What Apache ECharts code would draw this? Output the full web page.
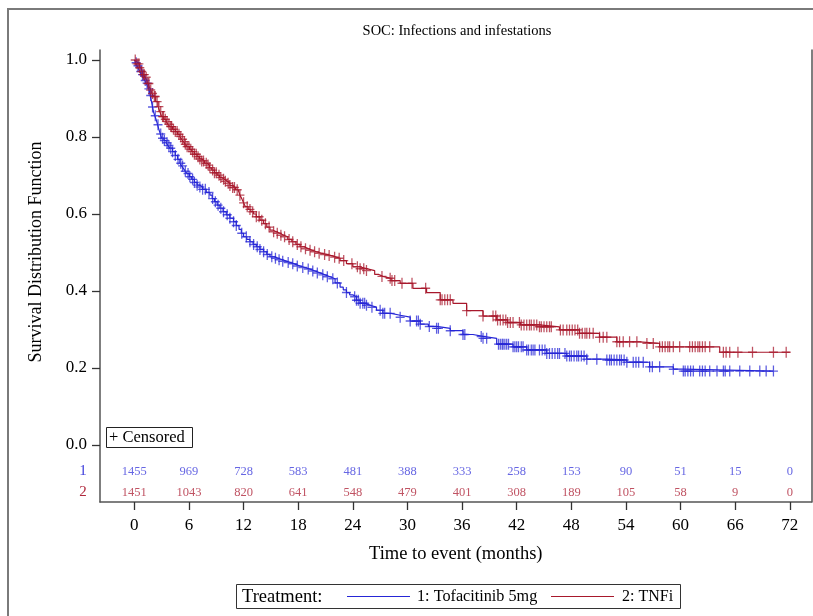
<!DOCTYPE html>
<html>
<head>
<meta charset="utf-8">
<script src="https://cdn.jsdelivr.net/npm/echarts@6/dist/echarts.min.js"></script>
<style>
html,body{margin:0;padding:0;background:#fff;}
#chart{width:813px;height:616px;}
</style>
</head>
<body>
<div id="chart"></div>
<script>
// ---------- data ----------
var chartTitle = 'SOC: Infections and infestations';
var groupNames = ['1: Tofacitinib 5mg', '2: TNFi'];
var xTicks = [0, 6, 12, 18, 24, 30, 36, 42, 48, 54, 60, 66, 72];
var yTicks = [0, 0.2, 0.4, 0.6, 0.8, 1.0];

// Kaplan-Meier step points (time in months, survival)
var tofaTimes = [0, 0.15, 0.3, 0.45, 0.6, 0.8, 1.0, 1.15, 1.3, 1.45, 1.6, 1.75, 1.9, 2.0, 2.1, 2.25, 2.4, 2.55, 2.7, 2.85, 3.0, 3.25, 3.5, 3.7, 3.9, 4.2, 4.5, 4.75, 5.0, 5.2, 5.4, 5.6, 5.8, 6.05, 6.3, 6.6, 6.9, 7.2, 7.5, 7.9, 8.3, 8.55, 8.8, 9.1, 9.4, 9.75, 10.1, 10.5, 10.9, 11.2, 11.5, 11.75, 12.0, 12.35, 12.7, 13.05, 13.4, 13.8, 14.2, 14.55, 14.9, 15.35, 15.8, 16.3, 16.8, 17.15, 17.5, 17.85, 18.2, 18.75, 19.3, 19.85, 20.4, 20.95, 21.5, 22.05, 22.6, 22.95, 23.3, 23.65, 24.0, 24.4, 24.8, 25.35, 25.9, 26.6, 27.3, 28.2, 29.2, 30.3, 31.4, 32.3, 33.2, 34.7, 36.1, 37.2, 38.3, 39.8, 41.6, 43.1, 45.3, 47.5, 49.7, 51.9, 54.1, 56.6, 59.2, 60.3, 70.2];
var tofaSurv  = [1.0, 0.993, 0.985, 0.978, 0.97, 0.962, 0.955, 0.947, 0.94, 0.932, 0.925, 0.908, 0.89, 0.878, 0.866, 0.855, 0.845, 0.832, 0.82, 0.808, 0.797, 0.791, 0.785, 0.778, 0.771, 0.762, 0.752, 0.742, 0.732, 0.725, 0.718, 0.711, 0.705, 0.697, 0.69, 0.682, 0.675, 0.67, 0.664, 0.656, 0.649, 0.64, 0.632, 0.623, 0.615, 0.606, 0.598, 0.589, 0.58, 0.57, 0.56, 0.55, 0.541, 0.534, 0.528, 0.521, 0.515, 0.508, 0.502, 0.495, 0.489, 0.485, 0.481, 0.477, 0.474, 0.471, 0.468, 0.465, 0.461, 0.457, 0.452, 0.447, 0.442, 0.437, 0.432, 0.421, 0.41, 0.403, 0.396, 0.39, 0.385, 0.376, 0.368, 0.363, 0.358, 0.35, 0.342, 0.337, 0.332, 0.322, 0.314, 0.308, 0.303, 0.297, 0.287, 0.282, 0.277, 0.262, 0.255, 0.247, 0.238, 0.231, 0.223, 0.221, 0.215, 0.203, 0.197, 0.192, 0.192];

var tnfTimes = [0, 0.15, 0.3, 0.55, 0.8, 1.0, 1.2, 1.35, 1.5, 1.65, 1.8, 1.95, 2.1, 2.35, 2.6, 2.8, 3.0, 3.25, 3.5, 3.7, 3.9, 4.2, 4.5, 4.75, 5.0, 5.2, 5.4, 5.6, 5.8, 6.05, 6.3, 6.6, 6.9, 7.15, 7.4, 7.7, 8.0, 8.25, 8.5, 8.8, 9.1, 9.35, 9.6, 9.9, 10.2, 10.5, 10.8, 11.1, 11.4, 11.6, 11.8, 12.0, 12.2, 12.5, 12.8, 13.1, 13.4, 13.8, 14.2, 14.55, 14.9, 15.25, 15.6, 16.0, 16.4, 16.85, 17.3, 17.75, 18.2, 18.65, 19.1, 19.55, 20.0, 20.55, 21.1, 21.65, 22.2, 22.6, 23.3, 24.0, 24.75, 25.5, 26.4, 26.85, 27.3, 28.2, 29.2, 30.6, 32.1, 33.6, 35.0, 36.5, 38.3, 39.8, 41.0, 42.4, 44.5, 46.7, 48.9, 51.1, 53.0, 55.5, 57.7, 64.3, 72.0];
var tnfSurv  = [1.0, 0.995, 0.99, 0.98, 0.97, 0.962, 0.955, 0.947, 0.939, 0.93, 0.922, 0.913, 0.905, 0.892, 0.879, 0.866, 0.853, 0.846, 0.84, 0.833, 0.827, 0.82, 0.814, 0.807, 0.801, 0.794, 0.788, 0.781, 0.775, 0.768, 0.762, 0.755, 0.749, 0.743, 0.738, 0.732, 0.727, 0.72, 0.714, 0.707, 0.701, 0.695, 0.69, 0.685, 0.68, 0.674, 0.669, 0.663, 0.658, 0.649, 0.64, 0.629, 0.619, 0.612, 0.606, 0.6, 0.593, 0.584, 0.575, 0.566, 0.558, 0.554, 0.55, 0.545, 0.541, 0.534, 0.528, 0.521, 0.515, 0.51, 0.506, 0.502, 0.498, 0.495, 0.492, 0.488, 0.485, 0.479, 0.471, 0.463, 0.458, 0.453, 0.443, 0.438, 0.433, 0.427, 0.42, 0.407, 0.396, 0.377, 0.368, 0.349, 0.335, 0.325, 0.318, 0.312, 0.307, 0.299, 0.29, 0.28, 0.268, 0.264, 0.255, 0.241, 0.241];

// censoring times (months)
var tofaCensor = [0.2, 0.4, 0.7, 0.9, 1.2, 1.4, 1.6, 1.8, 2.0, 2.3, 2.6, 2.9, 3.1, 3.3, 3.6, 3.8, 4.0, 4.2, 4.5, 4.8, 5.1, 5.3, 5.6, 5.9, 6.1, 6.4, 6.6, 6.9, 7.2, 7.5, 7.8, 8.2, 8.6, 8.9, 9.2, 9.5, 9.8, 10.2, 10.5, 10.9, 11.2, 11.8, 12.3, 12.7, 13.1, 13.5, 13.8, 14.2, 14.6, 15.1, 15.5, 15.9, 16.3, 16.9, 17.4, 17.9, 18.5, 19.1, 19.6, 20.1, 20.7, 21.2, 21.8, 22.3, 23.3, 24.2, 24.4, 24.6, 24.8, 25.1, 25.3, 25.5, 26.1, 27.0, 27.3, 27.5, 28.1, 29.2, 30.3, 31.0, 31.2, 31.4, 32.4, 33.2, 33.4, 34.7, 36.1, 36.3, 38.1, 38.3, 38.7, 40.0, 40.2, 40.4, 40.5, 40.7, 40.9, 41.1, 41.6, 41.8, 42.0, 42.2, 42.5, 42.7, 43.1, 43.3, 43.6, 43.8, 44.0, 44.5, 44.8, 45.1, 45.3, 45.6, 45.9, 46.2, 46.5, 46.7, 47.3, 47.5, 47.8, 48.0, 48.3, 48.6, 48.8, 49.1, 49.4, 49.7, 50.8, 51.9, 52.2, 52.4, 52.7, 53.0, 53.3, 53.5, 53.8, 54.1, 54.8, 55.1, 55.4, 55.9, 56.6, 56.9, 57.7, 59.2, 60.3, 60.5, 60.8, 61.1, 61.4, 62.1, 62.4, 62.7, 63.2, 64.0, 64.7, 64.9, 65.4, 66.5, 67.6, 68.7, 69.4, 70.2];
var tnfCensor = [0.1, 0.3, 0.5, 0.6, 0.8, 1.0, 1.1, 1.3, 1.5, 1.6, 1.8, 2.0, 2.2, 2.3, 2.5, 2.7, 2.9, 3.1, 3.2, 3.4, 3.6, 3.8, 4.0, 4.1, 4.3, 4.5, 4.7, 4.9, 5.1, 5.3, 5.5, 5.6, 5.8, 6.0, 6.2, 6.4, 6.6, 6.8, 7.0, 7.2, 7.4, 7.6, 7.9, 8.1, 8.3, 8.6, 8.8, 9.0, 9.3, 9.5, 9.8, 10.0, 10.3, 10.5, 10.8, 11.0, 11.3, 11.6, 12.0, 12.4, 12.7, 13.0, 13.4, 13.7, 14.0, 14.4, 14.8, 15.3, 15.7, 16.1, 16.5, 17.0, 17.4, 17.9, 18.3, 18.8, 19.3, 19.8, 20.3, 20.9, 21.4, 22.0, 22.5, 23.0, 23.9, 24.5, 24.8, 25.2, 25.5, 27.2, 28.1, 28.3, 28.6, 29.4, 30.5, 32.0, 33.6, 33.8, 34.1, 34.4, 34.7, 36.5, 38.3, 39.4, 39.7, 39.9, 40.2, 40.5, 40.8, 41.0, 41.3, 41.6, 42.3, 42.5, 42.8, 43.1, 43.4, 43.6, 43.9, 44.2, 44.5, 44.7, 45.0, 45.3, 45.6, 45.8, 46.8, 47.1, 47.5, 47.8, 48.1, 48.4, 48.7, 48.9, 49.2, 49.5, 49.7, 50.0, 50.4, 51.1, 51.5, 51.9, 53.0, 53.3, 53.7, 54.4, 55.2, 56.3, 57.0, 57.7, 58.0, 58.3, 58.6, 58.8, 59.2, 59.9, 61.0, 61.3, 61.6, 61.9, 62.1, 62.4, 62.7, 63.2, 64.7, 65.0, 65.4, 66.3, 67.9, 70.2, 71.6];

// numbers at risk at each x tick
var tofaAtRisk = [1455, 969, 728, 583, 481, 388, 333, 258, 153, 90, 51, 15, 0];
var tnfAtRisk  = [1451, 1043, 820, 641, 548, 479, 401, 308, 189, 105, 58, 9, 0];

// ---------- styling ----------
var BLUE = '#2626d6';
var RED = '#a8182c';
var BLUE_TXT = '#4040dc';
var RED_TXT = '#b0283c';
var SERIF = '"Liberation Serif","Times New Roman",serif';

function survAt(times, surv, t) {
  var s = surv[0];
  for (var i = 0; i < times.length; i++) { if (times[i] <= t) s = surv[i]; else break; }
  return s;
}
function pairs(a, b) { return a.map(function (v, i) { return [v, b[i]]; }); }
function censorPts(ct, times, surv) { return ct.map(function (t) { return [t, survAt(times, surv, t)]; }); }
function riskPts(vals, yPos) { return xTicks.map(function (t, i) { return [t, yPos, vals[i]]; }); }

var plus = 'path://M4.3,0H5.7V4.35H10V5.65H5.7V10H4.3V5.65H0V4.35H4.3Z';
var ROW1 = -0.0701, ROW2 = -0.1239;

var chart = echarts.init(document.getElementById('chart'), null, {renderer: 'canvas'});
var option = {
  animation: false,
  backgroundColor: '#fff',
  grid: {left: 100, right: 1.5, top: 50, bottom: 114, containLabel: false},
  xAxis: {
    type: 'value', min: -3.77, max: 74.38,
    name: 'Time to event (months)', nameLocation: 'middle', nameGap: 43,
    nameTextStyle: {fontFamily: SERIF, fontSize: 18.5, color: '#000'},
    axisLine: {show: true, onZero: false, lineStyle: {color: '#555', width: 1.5}},
    axisTick: {show: true, length: 8, customValues: xTicks, lineStyle: {color: '#333', width: 1.3}},
    axisLabel: {customValues: xTicks, fontFamily: SERIF, fontSize: 17, color: '#000', margin: 15},
    splitLine: {show: false}
  },
  yAxis: [{
    type: 'value', min: -0.148, max: 1.026, position: 'left',
    axisLine: {show: true, onZero: false, lineStyle: {color: '#555', width: 1.5}},
    axisTick: {show: true, length: 8, customValues: yTicks, lineStyle: {color: '#333', width: 1.3}},
    axisLabel: {customValues: yTicks, fontFamily: SERIF, fontSize: 17, color: '#000', margin: 13,
      formatter: function (v) { return v.toFixed(1); }},
    splitLine: {show: false}
  }, {
    type: 'value', min: -0.148, max: 1.026, position: 'right',
    axisLine: {show: true, onZero: false, lineStyle: {color: '#555', width: 1.5}},
    axisTick: {show: false}, axisLabel: {show: false}, splitLine: {show: false}
  }],
  series: [
    {name: groupNames[0], type: 'line', step: 'end', data: pairs(tofaTimes, tofaSurv), showSymbol: false,
      lineStyle: {color: BLUE, width: 1.2}, itemStyle: {color: BLUE}, z: 3},
    {name: groupNames[1], type: 'line', step: 'end', data: pairs(tnfTimes, tnfSurv), showSymbol: false,
      lineStyle: {color: RED, width: 1.2}, itemStyle: {color: RED}, z: 3},
    {type: 'scatter', data: censorPts(tofaCensor, tofaTimes, tofaSurv), symbol: plus, symbolSize: [9, 11],
      itemStyle: {color: BLUE, opacity: 0.75}, z: 4, silent: true},
    {type: 'scatter', data: censorPts(tnfCensor, tnfTimes, tnfSurv), symbol: plus, symbolSize: [9, 11],
      itemStyle: {color: RED, opacity: 0.75}, z: 4, silent: true},
    {type: 'scatter', data: riskPts(tofaAtRisk, ROW1), symbolSize: 1, itemStyle: {color: 'rgba(0,0,0,0)'},
      label: {show: true, position: 'inside', formatter: function (p) { return p.value[2]; },
        fontFamily: SERIF, fontSize: 12.5, color: BLUE_TXT}, silent: true},
    {type: 'scatter', data: riskPts(tnfAtRisk, ROW2), symbolSize: 1, itemStyle: {color: 'rgba(0,0,0,0)'},
      label: {show: true, position: 'inside', formatter: function (p) { return p.value[2]; },
        fontFamily: SERIF, fontSize: 12.5, color: RED_TXT}, silent: true}
  ],
  graphic: [
    {type: 'rect', shape: {x: 8, y: 9, width: 820, height: 630}, style: {fill: 'none', stroke: '#7a7a7a', lineWidth: 2}, silent: true},
    {type: 'text', style: {text: chartTitle, x: 457, y: 31, textAlign: 'center', textVerticalAlign: 'middle',
      font: '14.5px ' + SERIF, fill: '#000'}},
    {type: 'text', x: 36, y: 252, rotation: Math.PI / 2, style: {text: 'Survival Distribution Function', x: 0, y: 0,
      textAlign: 'center', textVerticalAlign: 'middle', font: '18px ' + SERIF, fill: '#000'}},
    {type: 'rect', shape: {x: 106.5, y: 427.5, width: 86, height: 20}, style: {fill: '#fff', stroke: '#222', lineWidth: 1}, z: 10},
    {type: 'text', style: {text: '+ Censored', x: 109, y: 438, textAlign: 'left', textVerticalAlign: 'middle',
      font: '16.5px ' + SERIF, fill: '#000'}, z: 11},
    {type: 'text', style: {text: '1', x: 83, y: 471, textAlign: 'center', textVerticalAlign: 'middle',
      font: '15px ' + SERIF, fill: BLUE_TXT}},
    {type: 'text', style: {text: '2', x: 83, y: 492, textAlign: 'center', textVerticalAlign: 'middle',
      font: '15px ' + SERIF, fill: RED_TXT}},
    {type: 'rect', shape: {x: 236.5, y: 584.5, width: 444, height: 24}, style: {fill: '#fff', stroke: '#333', lineWidth: 1}},
    {type: 'text', style: {text: 'Treatment:', x: 242, y: 597, textAlign: 'left', textVerticalAlign: 'middle',
      font: '18.5px ' + SERIF, fill: '#000'}},
    {type: 'line', shape: {x1: 347, y1: 596.5, x2: 410, y2: 596.5}, style: {stroke: BLUE, lineWidth: 1.2}},
    {type: 'text', style: {text: groupNames[0], x: 417, y: 597, textAlign: 'left', textVerticalAlign: 'middle',
      font: '16.2px ' + SERIF, fill: '#000'}},
    {type: 'line', shape: {x1: 551, y1: 596.5, x2: 614, y2: 596.5}, style: {stroke: RED, lineWidth: 1.2}},
    {type: 'text', style: {text: groupNames[1], x: 622, y: 597, textAlign: 'left', textVerticalAlign: 'middle',
      font: '16px ' + SERIF, fill: '#000'}}
  ]
};
chart.setOption(option);
</script>
</body>
</html>
